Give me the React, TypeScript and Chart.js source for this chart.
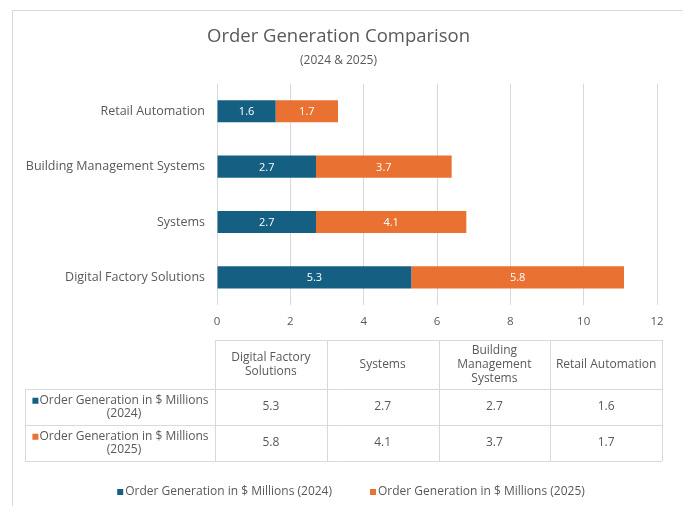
import React, { useEffect, useRef } from 'react';
import { Chart, registerables } from 'chart.js';
Chart.register(...registerables);

const categories = ['Digital Factory Solutions', 'Systems', 'Building Management Systems', 'Retail Automation'];
const tableHeaderLines = [['Digital Factory', 'Solutions'], ['Systems'], ['Building', 'Management', 'Systems'], ['Retail Automation']];
const series2024 = [5.3, 2.7, 2.7, 1.6];
const series2025 = [5.8, 4.1, 3.7, 1.7];
const seriesNames = ['Order Generation in $ Millions (2024)', 'Order Generation in $ Millions (2025)'];
const seriesRowLines = [['Order Generation in $ Millions', '(2024)'], ['Order Generation in $ Millions', '(2025)']];
const seriesColors = ['#156082', '#E97132'];
const chartTitle = 'Order Generation Comparison';
const chartSubtitle = '(2024 & 2025)';

const FONT = '"Open Sans", sans-serif';
const TEXT = '#595959';
const LINE = '#d9d9d9';

const extrasPlugin = {
  id: 'extras',
  beforeDraw(chart: any) {
    const ctx = chart.ctx;
    ctx.save();
    ctx.fillStyle = '#ffffff';
    ctx.fillRect(0, 0, chart.width, chart.height);
    ctx.strokeStyle = LINE;
    ctx.lineWidth = 1;
    ctx.strokeRect(12.5, 10.5, chart.width + 20, chart.height + 20);
    ctx.restore();
  },
  afterDraw(chart: any) {
    const ctx = chart.ctx;
    const area = chart.chartArea;
    ctx.save();
    // data labels
    ctx.font = `11px ${FONT}`;
    ctx.fillStyle = '#ffffff';
    ctx.textAlign = 'center';
    ctx.textBaseline = 'middle';
    chart.data.datasets.forEach((ds: any, i: number) => {
      const meta = chart.getDatasetMeta(i);
      meta.data.forEach((el: any, j: number) => {
        const p = el.getProps(['x', 'y', 'base'], true);
        ctx.fillText(String(ds.data[j]), (p.x + p.base) / 2, p.y + 1);
      });
    });

    // data table
    const left = area.left - 2;
    const right = area.right + 5;
    const colW = (right - left) / categories.length;
    const top = area.bottom + 35;
    const headerH = 49;
    const rowH = 36;
    const rowLeft = 25;
    const bottom = top + headerH + rowH * 2;
    ctx.strokeStyle = LINE;
    ctx.lineWidth = 1;
    ctx.beginPath();
    ctx.moveTo(left, top + 0.5);
    ctx.lineTo(right, top + 0.5);
    for (let r = 0; r <= 2; r++) {
      const y = Math.round(top + headerH + rowH * r) + 0.5;
      ctx.moveTo(rowLeft, y);
      ctx.lineTo(right, y);
    }
    for (let c = 0; c <= categories.length; c++) {
      const x = Math.round(left + colW * c) + 0.5;
      ctx.moveTo(x, top);
      ctx.lineTo(x, bottom);
    }
    ctx.moveTo(rowLeft + 0.5, top + headerH);
    ctx.lineTo(rowLeft + 0.5, bottom);
    ctx.stroke();

    ctx.fillStyle = TEXT;
    ctx.font = `12px ${FONT}`;
    ctx.textAlign = 'center';
    ctx.textBaseline = 'middle';
    const lh = 14;
    tableHeaderLines.forEach((lines, c) => {
      const cx = left + colW * (c + 0.5);
      const cy = top + headerH / 2;
      lines.forEach((t, k) => {
        ctx.fillText(t, cx, cy + (k - (lines.length - 1) / 2) * lh);
      });
    });
    const values = [series2024, series2025];
    values.forEach((vals, r) => {
      const cy = top + headerH + rowH * (r + 0.5);
      vals.forEach((v, c) => {
        ctx.fillStyle = TEXT;
        ctx.fillText(String(v), left + colW * (c + 0.5), cy);
      });
      const lines = seriesRowLines[r];
      const cx = (rowLeft + left) / 2 + 4;
      ctx.fillStyle = TEXT;
      lines.forEach((t, k) => {
        ctx.fillText(t, cx, cy + (k - 0.5) * 12.5);
      });
      const w = ctx.measureText(lines[0]).width;
      ctx.fillStyle = seriesColors[r];
      ctx.fillRect(cx - w / 2 - 7, cy - 6.25 - 3, 6, 6);
    });

    // legend
    ctx.font = `12px ${FONT}`;
    ctx.textAlign = 'left';
    const gap = 38;
    const box = 6;
    const widths = seriesNames.map((n) => ctx.measureText(n).width + box + 2);
    const total = widths[0] + widths[1] + gap;
    let x = 351 - total / 2;
    const ly = 492;
    seriesNames.forEach((n, i) => {
      ctx.fillStyle = seriesColors[i];
      ctx.fillRect(x, ly - 3, box, box);
      ctx.fillStyle = TEXT;
      ctx.fillText(n, x + box + 2, ly);
      x += widths[i] + gap;
    });
    ctx.restore();
  },
};

export default function App() {
  const ref = useRef<HTMLCanvasElement | null>(null);
  useEffect(() => {
    document.body.style.margin = '0';
    const chart = new Chart(ref.current as HTMLCanvasElement, {
      type: 'bar',
      data: {
        labels: categories,
        datasets: [
          { label: seriesNames[0], data: series2024, backgroundColor: seriesColors[0], categoryPercentage: 1, barPercentage: 0.4 },
          { label: seriesNames[1], data: series2025, backgroundColor: seriesColors[1], categoryPercentage: 1, barPercentage: 0.4 },
        ],
      },
      options: {
        indexAxis: 'y',
        animation: false,
        responsive: false,
        layout: { padding: { top: 16, left: 20, right: 26, bottom: 0 } },
        plugins: {
          legend: { display: false },
          tooltip: { enabled: false },
          title: {
            display: true,
            text: chartTitle,
            color: TEXT,
            font: { family: FONT, size: 18.5, weight: 'normal' },
            padding: { top: 10, bottom: 4 },
          },
          subtitle: {
            display: true,
            text: chartSubtitle,
            color: TEXT,
            font: { family: FONT, size: 12, weight: 'normal' },
            padding: { top: 1, bottom: 16 },
          },
        },
        scales: {
          x: {
            stacked: true,
            min: 0,
            max: 12,
            ticks: { stepSize: 2, color: TEXT, font: { family: FONT, size: 11.5 }, padding: 10 },
            grid: { color: LINE, drawTicks: false },
            border: { display: false },
            afterFit: (s: any) => { s.height = 201; },
          },
          y: {
            stacked: true,
            reverse: true,
            ticks: { color: TEXT, font: { family: FONT, size: 12.5 }, padding: 12 },
            grid: { display: false, drawTicks: false },
            border: { display: false },
            afterFit: (s: any) => { s.width = 197; },
          },
        },
      },
      plugins: [extrasPlugin],
    });
    return () => chart.destroy();
  }, []);
  return <canvas ref={ref} width={683} height={506} style={{ display: 'block' }} />;
}
